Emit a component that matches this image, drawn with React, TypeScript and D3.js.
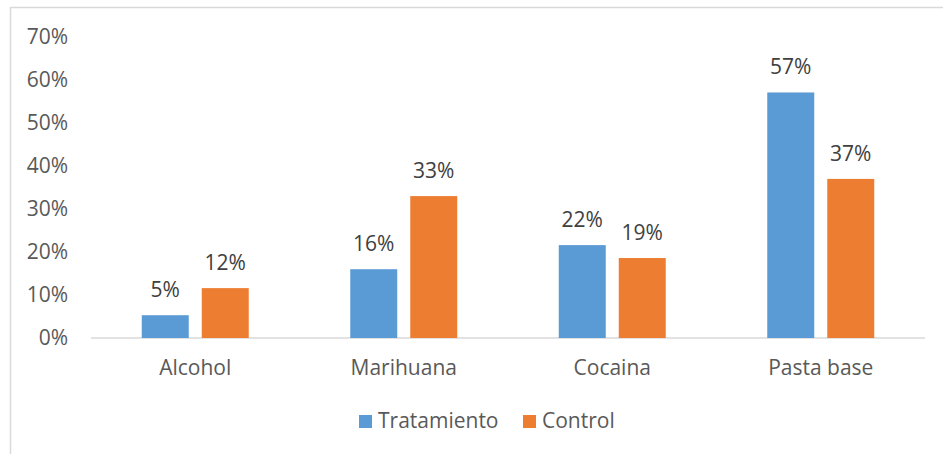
import React from "react";
import * as d3 from "d3";

const categories = ["Alcohol", "Marihuana", "Cocaina", "Pasta base"];
const seriesNames = ["Tratamiento", "Control"];
const tratamiento = [0.053, 0.16, 0.216, 0.571];
const control = [0.116, 0.33, 0.186, 0.37];
const labelsTratamiento = ["5%", "16%", "22%", "57%"];
const labelsControl = ["12%", "33%", "19%", "37%"];
const yTicks = [0, 0.1, 0.2, 0.3, 0.4, 0.5, 0.6, 0.7];

const colors = ["#5b9bd5", "#ed7d31"];
const W = 943;
const H = 454;
const FONT = "'Open Sans', sans-serif";
const FS = 21;

export default function App() {
  const x = d3.scaleBand<string>().domain(categories).range([91, 925]).padding(0);
  const y = d3.scaleLinear().domain([0, 0.7]).range([338, 37]);
  const groupW = 107;
  const xs = d3.scaleBand<string>().domain(seriesNames).range([0, groupW]).paddingInner(0.2167).paddingOuter(0);
  const values = [tratamiento, control];
  const labels = [labelsTratamiento, labelsControl];
  const fmt = d3.format(".0%");

  return (
    <svg width={W} height={H} style={{ position: "absolute", left: 0, top: 0, display: "block" }}>
      <rect x={0} y={0} width={W} height={H} fill="#fff" />
      <path d={`M10.5,${H} L10.5,7.5 L${W},7.5`} fill="none" stroke="#d9d9d9" strokeWidth={1.5} />
      {yTicks.map((t) => (
        <text key={t} x={68} y={y(t)} dy="0.35em" textAnchor="end" fontFamily={FONT} fontSize={FS} fill="#595959">
          {fmt(t)}
        </text>
      ))}
      <line x1={91} x2={925} y1={338} y2={338} stroke="#d9d9d9" strokeWidth={1.5} />
      {categories.map((c, i) => {
        const cx = (x(c) as number) + x.bandwidth() / 2;
        const gx = cx - groupW / 2;
        return (
          <g key={c}>
            {seriesNames.map((s, si) => {
              const v = values[si][i];
              const bx = gx + (xs(s) as number);
              const bw = xs.bandwidth();
              return (
                <g key={s}>
                  <rect x={bx} y={y(v)} width={bw} height={y(0) - y(v)} fill={colors[si]} />
                  <text x={bx + bw / 2} y={y(v) - 18} textAnchor="middle" fontFamily={FONT} fontSize={FS} fill="#404040">
                    {labels[si][i]}
                  </text>
                </g>
              );
            })}
            <text x={cx} y={368} dy="0.35em" textAnchor="middle" fontFamily={FONT} fontSize={FS} fill="#595959">
              {c}
            </text>
          </g>
        );
      })}
      <g>
        <rect x={359} y={415} width={13} height={13} fill={colors[0]} />
        <text x={378} y={421} dy="0.35em" fontFamily={FONT} fontSize={FS} fill="#595959">{seriesNames[0]}</text>
        <rect x={523} y={415} width={13} height={13} fill={colors[1]} />
        <text x={542} y={421} dy="0.35em" fontFamily={FONT} fontSize={FS} fill="#595959">{seriesNames[1]}</text>
      </g>
    </svg>
  );
}
